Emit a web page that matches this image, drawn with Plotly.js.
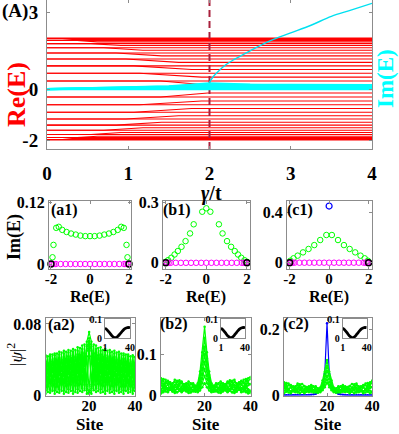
<!DOCTYPE html>
<html><head><meta charset="utf-8">
<script src="https://cdn.plot.ly/plotly-3.0.1.min.js"></script>
<style>html,body{margin:0;padding:0;background:#fff;}#chart{width:399px;height:434px;}</style>
</head><body><div id="chart"></div>
<script>
// ---------- Panel (A): spectrum vs gamma/t ----------
const gammaTicks = [0, 1, 2, 3, 4];
const reTicks = [-2, 0, 3];
// levels that stay flat over the whole gamma range
const reFlat = [1.975, 1.902, 1.782, 1.618, 1.414, 1.176, 0.908, 0.618, 0.313, 0, -0.313, -0.618, -0.908, -1.176, -1.414, -1.618, -1.782, -1.902, -1.975];
// levels that move: start value, end value, gamma where the move starts / ends
const reMoveStart = [2.0, 1.975, 1.902, 1.782, 1.618, 1.414, 1.176, 0.908, 0.618, 0.313, -0.313, -0.618, -0.908, -1.176, -1.414, -1.618, -1.782, -1.902, -1.975, -2.0];
const reMoveEnd = [1.994, 1.945, 1.848, 1.705, 1.520, 1.299, 1.045, 0.765, 0.467, 0.157, -0.157, -0.467, -0.765, -1.045, -1.299, -1.520, -1.705, -1.848, -1.945, -1.994];
const reMoveG0 = [0.05, 0.19, 0.37, 0.54, 0.70, 0.85, 0.97, 1.07, 1.14, 1.40, 1.40, 1.14, 1.07, 0.97, 0.85, 0.70, 0.54, 0.37, 0.19, 0.05];
const reMoveG1 = [0.10, 0.31, 0.62, 0.91, 1.18, 1.41, 1.62, 1.78, 1.90, 1.98, 1.98, 1.90, 1.78, 1.62, 1.41, 1.18, 0.91, 0.62, 0.31, 0.10];
// Im(E) band near zero
const imGamma = [0, 0.5, 1, 1.5, 2, 2.5, 3, 3.5, 4];
const imBand1 = [0, 0, 0, 0, 0, 0, 0, 0, 0];
const imBand2 = [0, 0.03, 0.05, 0.08, 0.11, 0.12, 0.12, 0.12, 0.12];
const imBand3 = [0, 0.025, 0.05, 0.09, 0.17, 0.15, 0.14, 0.14, 0.13];
const imBand4 = [0, 0.02, 0.04, 0.06, 0.07, 0.07, 0.07, 0.07, 0.07];
const imBand5 = [0, 0.03, 0.06, 0.10, 0.22, 0.17, 0.16, 0.16, 0.15];
// the branch that leaves the band at gamma = 2
const boundGamma = [2.0, 2.05, 2.1, 2.2, 2.3, 2.5, 2.75, 3.0, 3.25, 3.5, 3.75, 4.0];
const boundIm = [0.27, 0.5, 0.67, 0.95, 1.15, 1.5, 1.9, 2.2, 2.5, 2.85, 3.1, 3.36];
const epGamma = 2;

// ---------- Row 1: complex spectra ----------
const a1GreenRe = [-1.92, -1.87, -1.73, -1.60, -1.42, -1.20, -0.97, -0.73, -0.49, -0.24, 0, 0.24, 0.49, 0.73, 0.97, 1.20, 1.42, 1.60, 1.73, 1.87, 1.92];
const a1GreenIm = [0.013, 0.037, 0.070, 0.072, 0.066, 0.062, 0.059, 0.057, 0.055, 0.054, 0.054, 0.054, 0.055, 0.057, 0.059, 0.062, 0.066, 0.072, 0.070, 0.037, 0.013];
const b1GreenRe = [-2, -1.88, -1.72, -1.56, -1.40, -1.22, -1.02, -0.80, -0.62, -0.2, 0, 0.2, 0.62, 0.80, 1.02, 1.22, 1.40, 1.56, 1.72, 1.88, 2];
const b1GreenIm = [0.005, 0.013, 0.025, 0.041, 0.058, 0.079, 0.107, 0.145, 0.19, 0.252, 0.269, 0.252, 0.19, 0.145, 0.107, 0.079, 0.058, 0.041, 0.025, 0.013, 0.005];
const c1GreenRe = [-1.96, -1.80, -1.59, -1.32, -1.04, -0.75, -0.45, -0.14, 0.14, 0.45, 0.75, 1.04, 1.32, 1.59, 1.80, 1.96];
const c1GreenIm = [0.016, 0.035, 0.056, 0.082, 0.109, 0.14, 0.18, 0.22, 0.22, 0.18, 0.14, 0.109, 0.082, 0.056, 0.035, 0.016];
const c1BlueRe = [0];
const c1BlueIm = [0.45];
const magRe = [-1.98, -1.93, -1.85, -1.75, -1.5, -1.25, -1.0, -0.75, -0.5, -0.25, 0, 0.25, 0.5, 0.75, 1.0, 1.25, 1.5, 1.75, 1.85, 1.93, 1.98];
const magIm = [0, 0, 0, 0, 0, 0, 0, 0, 0, 0, 0, 0, 0, 0, 0, 0, 0, 0, 0, 0, 0];
const blackRe = [-2, 2];
const blackIm = [0, 0];

// ---------- Row 2: |psi|^2 vs site ----------
const sites = [1,2,3,4,5,6,7,8,9,10,11,12,13,14,15,16,17,18,19,20,21,22,23,24,25,26,27,28,29,30,31,32,33,34,35,36,37,38,39,40];
const a2L1 = [.045,.004,.046,.005,.047,.004,.049,.005,.050,.004,.051,.005,.052,.004,.054,.005,.056,.006,.060,.071,.060,.006,.056,.005,.054,.004,.052,.005,.051,.004,.050,.005,.049,.004,.047,.005,.046,.004,.045,.005];
const a2L2 = [.006,.044,.007,.046,.006,.047,.007,.048,.006,.049,.007,.050,.006,.051,.007,.053,.008,.057,.010,.064,.010,.057,.008,.053,.007,.051,.006,.050,.007,.049,.006,.048,.007,.047,.006,.046,.007,.044,.006,.043];
const a2L3 = [.038,.015,.040,.016,.041,.015,.042,.017,.043,.016,.044,.017,.045,.018,.046,.018,.048,.020,.050,.058,.050,.020,.048,.018,.046,.018,.045,.017,.044,.016,.043,.017,.042,.015,.041,.016,.040,.015,.038,.014];
const a2L4 = [.020,.036,.022,.038,.021,.039,.023,.040,.022,.041,.024,.042,.023,.043,.025,.045,.026,.047,.012,.052,.012,.047,.026,.045,.025,.043,.023,.042,.024,.041,.022,.040,.023,.039,.021,.038,.022,.036,.020,.035];
const a2L5 = [.030,.010,.032,.011,.033,.010,.034,.012,.035,.011,.036,.012,.037,.011,.038,.013,.040,.012,.044,.006,.044,.012,.040,.013,.038,.011,.037,.012,.036,.011,.035,.012,.034,.010,.033,.011,.032,.010,.030,.009];
const a2L6 = [.012,.028,.014,.030,.013,.031,.015,.032,.014,.033,.016,.034,.015,.035,.017,.036,.018,.040,.008,.002,.008,.040,.018,.036,.017,.035,.015,.034,.016,.033,.014,.032,.015,.031,.013,.030,.014,.028,.012,.026];
const a2L7 = [.043,.025,.044,.027,.045,.026,.046,.028,.047,.027,.048,.029,.049,.028,.050,.030,.052,.033,.055,.061,.055,.033,.052,.030,.050,.028,.049,.029,.048,.027,.047,.028,.046,.026,.045,.027,.044,.025,.043,.024];
const a2L8 = [.002,.020,.003,.022,.002,.023,.003,.024,.002,.025,.003,.026,.002,.027,.003,.028,.004,.030,.002,.005,.002,.030,.004,.028,.003,.027,.002,.026,.003,.025,.002,.024,.003,.023,.002,.022,.003,.020,.002,.019];

const b2L1 = [.042,.035,.022,.012,.015,.028,.038,.036,.024,.013,.014,.026,.034,.030,.020,.016,.030,.058,.105,.167,.105,.058,.030,.016,.020,.030,.034,.026,.014,.013,.024,.036,.038,.028,.015,.012,.022,.035,.042,.045];
const b2L2 = [.030,.040,.038,.026,.014,.010,.020,.032,.037,.030,.018,.011,.018,.028,.030,.022,.026,.050,.090,.140,.090,.050,.026,.022,.030,.028,.018,.011,.018,.030,.037,.032,.020,.010,.014,.026,.038,.040,.030,.028];
const b2L3 = [.015,.025,.033,.034,.026,.016,.010,.016,.026,.031,.027,.018,.012,.017,.026,.024,.022,.042,.075,.118,.075,.042,.022,.024,.026,.017,.012,.018,.027,.031,.026,.016,.010,.016,.026,.034,.033,.025,.015,.012];
const b2L4 = [.008,.012,.020,.028,.030,.024,.014,.008,.012,.022,.028,.026,.016,.010,.014,.020,.018,.035,.062,.100,.062,.035,.018,.020,.014,.010,.016,.026,.028,.022,.012,.008,.014,.024,.030,.028,.020,.012,.008,.010];
const b2L5 = [.025,.018,.010,.008,.014,.022,.026,.020,.012,.008,.012,.020,.024,.018,.010,.009,.015,.028,.050,.082,.050,.028,.015,.009,.010,.018,.024,.020,.012,.008,.012,.020,.026,.022,.014,.008,.010,.018,.025,.027];
const b2L6 = [.005,.008,.014,.018,.016,.010,.006,.008,.014,.018,.016,.010,.006,.007,.012,.014,.012,.022,.040,.065,.040,.022,.012,.014,.012,.007,.006,.010,.016,.018,.014,.008,.006,.010,.016,.018,.014,.008,.005,.006];
const b2L7 = [.036,.028,.018,.014,.020,.030,.033,.026,.016,.014,.022,.030,.028,.018,.012,.012,.010,.018,.030,.048,.030,.018,.010,.012,.012,.018,.028,.030,.022,.014,.016,.026,.033,.030,.020,.014,.018,.028,.036,.040];
const b2L8 = [.012,.020,.030,.036,.032,.020,.012,.018,.030,.034,.024,.014,.010,.016,.022,.018,.008,.012,.020,.030,.020,.012,.008,.018,.022,.016,.010,.014,.024,.034,.030,.018,.012,.020,.032,.036,.030,.020,.012,.010];

const c2L1 = [.040,.032,.020,.012,.014,.026,.036,.034,.022,.012,.013,.024,.032,.028,.018,.014,.024,.045,.072,.107,.072,.045,.024,.014,.018,.028,.032,.024,.013,.012,.022,.034,.036,.026,.014,.012,.020,.032,.040,.045];
const c2L2 = [.028,.038,.036,.024,.013,.010,.018,.030,.035,.028,.016,.010,.016,.026,.028,.020,.020,.038,.060,.090,.060,.038,.020,.020,.028,.026,.016,.010,.016,.028,.035,.030,.018,.010,.013,.024,.036,.038,.028,.026];
const c2L3 = [.014,.023,.031,.032,.024,.015,.009,.015,.024,.029,.025,.016,.011,.016,.024,.022,.018,.032,.050,.075,.050,.032,.018,.022,.024,.016,.011,.016,.025,.029,.024,.015,.009,.015,.024,.032,.031,.023,.014,.012];
const c2L4 = [.007,.011,.018,.026,.028,.022,.013,.007,.011,.020,.026,.024,.015,.009,.013,.018,.015,.026,.040,.060,.040,.026,.015,.018,.013,.009,.015,.024,.026,.020,.011,.007,.013,.022,.028,.026,.018,.011,.007,.009];
const c2L5 = [.023,.016,.009,.007,.013,.020,.024,.018,.011,.007,.011,.018,.022,.016,.009,.008,.012,.020,.032,.048,.032,.020,.012,.008,.009,.016,.022,.018,.011,.007,.011,.018,.024,.020,.013,.007,.009,.016,.023,.025];
const c2L6 = [.034,.026,.016,.013,.018,.028,.031,.024,.015,.013,.020,.028,.026,.016,.011,.011,.010,.016,.025,.038,.025,.016,.010,.011,.011,.016,.026,.028,.020,.013,.015,.024,.031,.028,.018,.013,.016,.026,.034,.038];
const c2Blue = [.001,.001,.001,.001,.001,.001,.001,.001,.001,.001,.001,.001,.002,.003,.005,.009,.016,.030,.065,.218,.065,.030,.016,.009,.005,.003,.002,.001,.001,.001,.001,.001,.001,.001,.001,.001,.001,.001,.001,.001];

// inset curve (same in the three insets)
const insetSites = [1, 4, 8, 12, 16, 20, 24, 28, 32, 36, 40];
const insetVals = [0.052, 0.044, 0.028, 0.011, 0.002, 0.006, 0.020, 0.036, 0.049, 0.055, 0.054];

// ---------- styling helpers ----------
const FONT = 'Liberation Serif';
const GRAY = '#8c8c8c';
const W = 399, H = 434;
const px = v => v / W;
const py = v => 1 - v / H;

function axis(dom, rng, tv, tt, fs, anchor, extra) {
  return Object.assign({
    domain: dom, range: rng, tickmode: 'array', tickvals: tv, ticktext: tt,
    ticks: 'inside', ticklen: 3, tickwidth: 1, tickcolor: GRAY,
    showline: true, linecolor: GRAY, linewidth: 1, mirror: 'ticks',
    showgrid: false, zeroline: false, anchor: anchor, fixedrange: true,
    tickfont: {family: FONT, size: fs, color: '#000', weight: 'bold'}
  }, extra || {});
}

const traces = [];
reFlat.forEach(v => traces.push({x: [0, 4], y: [v, v], xaxis: 'x', yaxis: 'y', mode: 'lines', line: {color: '#ff0000', width: 1.1}, hoverinfo: 'skip'}));
reMoveStart.forEach((v, i) => traces.push({x: [0, reMoveG0[i], reMoveG1[i], 4], y: [v, v, reMoveEnd[i], reMoveEnd[i]], xaxis: 'x', yaxis: 'y', mode: 'lines', line: {color: '#ff0000', width: 1.1}, hoverinfo: 'skip'}));
traces.push({x: [epGamma, epGamma], y: [-2.35, 3.49], xaxis: 'x', yaxis: 'y', mode: 'lines', line: {color: '#a8203c', width: 2, dash: '7px,4px'}, hoverinfo: 'skip'});
[imBand1, imBand2, imBand3, imBand4, imBand5].forEach(arr => traces.push({x: imGamma, y: arr, xaxis: 'x', yaxis: 'y2', mode: 'lines', line: {color: '#00ffff', width: 2.3}, hoverinfo: 'skip'}));
traces.push({x: boundGamma, y: boundIm, xaxis: 'x', yaxis: 'y2', mode: 'lines', line: {color: '#00e0f0', width: 1.4, shape: 'spline'}, hoverinfo: 'skip'});

function circles(xs, ys, xa, ya, color, size, lw) {
  return {x: xs, y: ys, xaxis: xa, yaxis: ya, mode: 'markers', cliponaxis: false,
    marker: {symbol: 'circle-open', size: size, color: color, line: {width: lw, color: color}}, hoverinfo: 'skip'};
}
[['x3', 'y3', a1GreenRe, a1GreenIm], ['x4', 'y4', b1GreenRe, b1GreenIm], ['x5', 'y5', c1GreenRe, c1GreenIm]].forEach(p => {
  traces.push(circles(p[2], p[3], p[0], p[1], '#00ff00', 5.5, 1));
  traces.push(circles(magRe, magIm, p[0], p[1], '#ff00ff', 5.5, 1));
  traces.push(circles(blackRe, blackIm, p[0], p[1], '#000000', 6, 1.4));
});
traces.push(circles(c1BlueRe, c1BlueIm, 'x5', 'y5', '#0000ff', 6, 1.2));

function gline(ys, xa, ya, color) {
  return {x: sites, y: ys, xaxis: xa, yaxis: ya, mode: 'lines+markers', line: {color: color, width: 1.2}, marker: {size: 2.5, color: color}, hoverinfo: 'skip'};
}
[a2L1, a2L2, a2L3, a2L4, a2L5, a2L6, a2L7, a2L8].forEach(a => traces.push(gline(a, 'x6', 'y6', '#00ff00')));
[b2L1, b2L2, b2L3, b2L4, b2L5, b2L6, b2L7, b2L8].forEach(a => traces.push(gline(a, 'x7', 'y7', '#00ff00')));
traces.push(gline(c2Blue, 'x8', 'y8', '#0000ff'));
[c2L1, c2L2, c2L3, c2L4, c2L5, c2L6].forEach(a => traces.push(gline(a, 'x8', 'y8', '#00ff00')));
[['x9', 'y9'], ['x10', 'y10'], ['x11', 'y11']].forEach(p => traces.push({x: insetSites, y: insetVals, xaxis: p[0], yaxis: p[1], mode: 'lines', line: {color: '#000', width: 2.8, shape: 'spline'}, hoverinfo: 'skip'}));

const row1 = [py(268.5), py(201)];
const row2 = [py(395.5), py(318)];
const insY = [py(338), py(319)];
const r1x = {ticklabelstandoff: -4};
const r2x = {ticklabelstandoff: -4};

const layout = {
  width: W, height: H, margin: {l: 0, r: 0, t: 0, b: 0},
  paper_bgcolor: '#fff', plot_bgcolor: 'rgba(0,0,0,0)', showlegend: false,
  font: {family: FONT, color: '#000'},
  xaxis: axis([px(47), px(372)], [0, 4], gammaTicks, gammaTicks.map(String), 19, 'y', {ticklabelstandoff: 7}),
  yaxis: axis([py(149), py(0)], [-2.35, 3.49], reTicks, reTicks.map(String), 19, 'x', {ticklabelstandoff: 4}),
  yaxis2: {overlaying: 'y', side: 'right', range: [-2.35, 3.49], showticklabels: false, showgrid: false, zeroline: false, showline: false, ticks: '', anchor: 'x', fixedrange: true},
  xaxis3: axis([px(49), px(131)], [-2.1, 2.1], [-2, 0, 2], ['-2', '0', '2'], 15, 'y3', r1x),
  yaxis3: axis(row1, [-0.0087, 0.122], [0, 0.12], ['0', '0.12'], 16, 'x3'),
  xaxis4: axis([px(163), px(250)], [-2.13, 2.15], [-2, 0, 2], ['-2', '0', '2'], 15, 'y4', r1x),
  yaxis4: axis(row1, [-0.028, 0.305], [0, 0.3], ['0', '0.3'], 16, 'x4'),
  xaxis5: axis([px(287), px(372)], [-2.13, 2.17], [-2, 0, 2], ['-2', '0', '2'], 15, 'y5', r1x),
  yaxis5: axis(row1, [-0.046, 0.49], [0, 0.4], ['0', '0.4'], 16, 'x5'),
  xaxis6: axis([px(45.5), px(135)], [1, 40], [20, 40], ['20', '40'], 15, 'y6', r2x),
  yaxis6: axis(row2, [0, 0.0867], [0, 0.08], ['0', '0.08'], 16, 'x6'),
  xaxis7: axis([px(161), px(250.5)], [1, 40], [20, 40], ['20', '40'], 15, 'y7', r2x),
  yaxis7: axis(row2, [0, 0.188], [0, 0.1], ['0', '0.1'], 16, 'x7'),
  xaxis8: axis([px(284), px(372.3)], [1, 40], [20, 40], ['20', '40'], 15, 'y8', r2x),
  yaxis8: axis(row2, [0, 0.234], [0, 0.2], ['0', '0.2'], 16, 'x8'),
  xaxis9: axis([px(105), px(130)], [1, 40], [1, 40], ['1', '40'], 10, 'y9', {ticklen: 0}),
  yaxis9: axis(insY, [0, 0.1], [0, 0.1], ['0', '0.1'], 10, 'x9', {ticklen: 0}),
  xaxis10: axis([px(221), px(245)], [1, 40], [1, 40], ['1', '40'], 10, 'y10', {ticklen: 0}),
  yaxis10: axis(insY, [0, 0.1], [0, 0.1], ['0', '0.1'], 10, 'x10', {ticklen: 0}),
  xaxis11: axis([px(342.7), px(366.7)], [1, 40], [1, 40], ['1', '40'], 10, 'y11', {ticklen: 0}),
  yaxis11: axis(insY, [0, 0.1], [0, 0.1], ['0', '0.1'], 10, 'x11', {ticklen: 0}),
  annotations: []
};

function ann(text, x, y, size, color, angle, extra) {
  return Object.assign({text: text, x: px(x), y: py(y), xref: 'paper', yref: 'paper', showarrow: false,
    xanchor: 'center', yanchor: 'middle', textangle: angle || 0,
    font: {family: FONT, size: size, color: color || '#000', weight: 'bold'}}, extra || {});
}
layout.annotations.push(
  ann('(A)', 15, 11, 19),
  ann('Re(E)', 16, 95, 26, '#ff0000', -90),
  ann('Im(E)', 386, 79, 23, '#00ffff', -90),
  ann('<i>γ</i>/t', 211, 193, 20),
  ann('(a1)', 64, 210, 16),
  ann('(b1)', 177, 210, 16),
  ann('(c1)', 300, 210, 16),
  ann('Im(E)', 14, 237, 18, '#000', -90),
  ann('Re(E)', 90, 297, 16),
  ann('Re(E)', 206, 297, 16),
  ann('Re(E)', 329, 297, 16),
  ann('(a2)', 61, 325, 16),
  ann('(b2)', 174, 324, 16),
  ann('(c2)', 296, 324, 16),
  ann('|<i>ψ</i>|<sup>2</sup>', 15, 355, 17, '#000', -90, {font: {family: FONT, size: 17, color: '#000'}}),
  ann('Site', 90, 424, 17),
  ann('Site', 206, 424, 17),
  ann('Site', 328, 424, 17)
);

Plotly.newPlot('chart', traces, layout, {staticPlot: true, displayModeBar: false});
</script></body></html>
